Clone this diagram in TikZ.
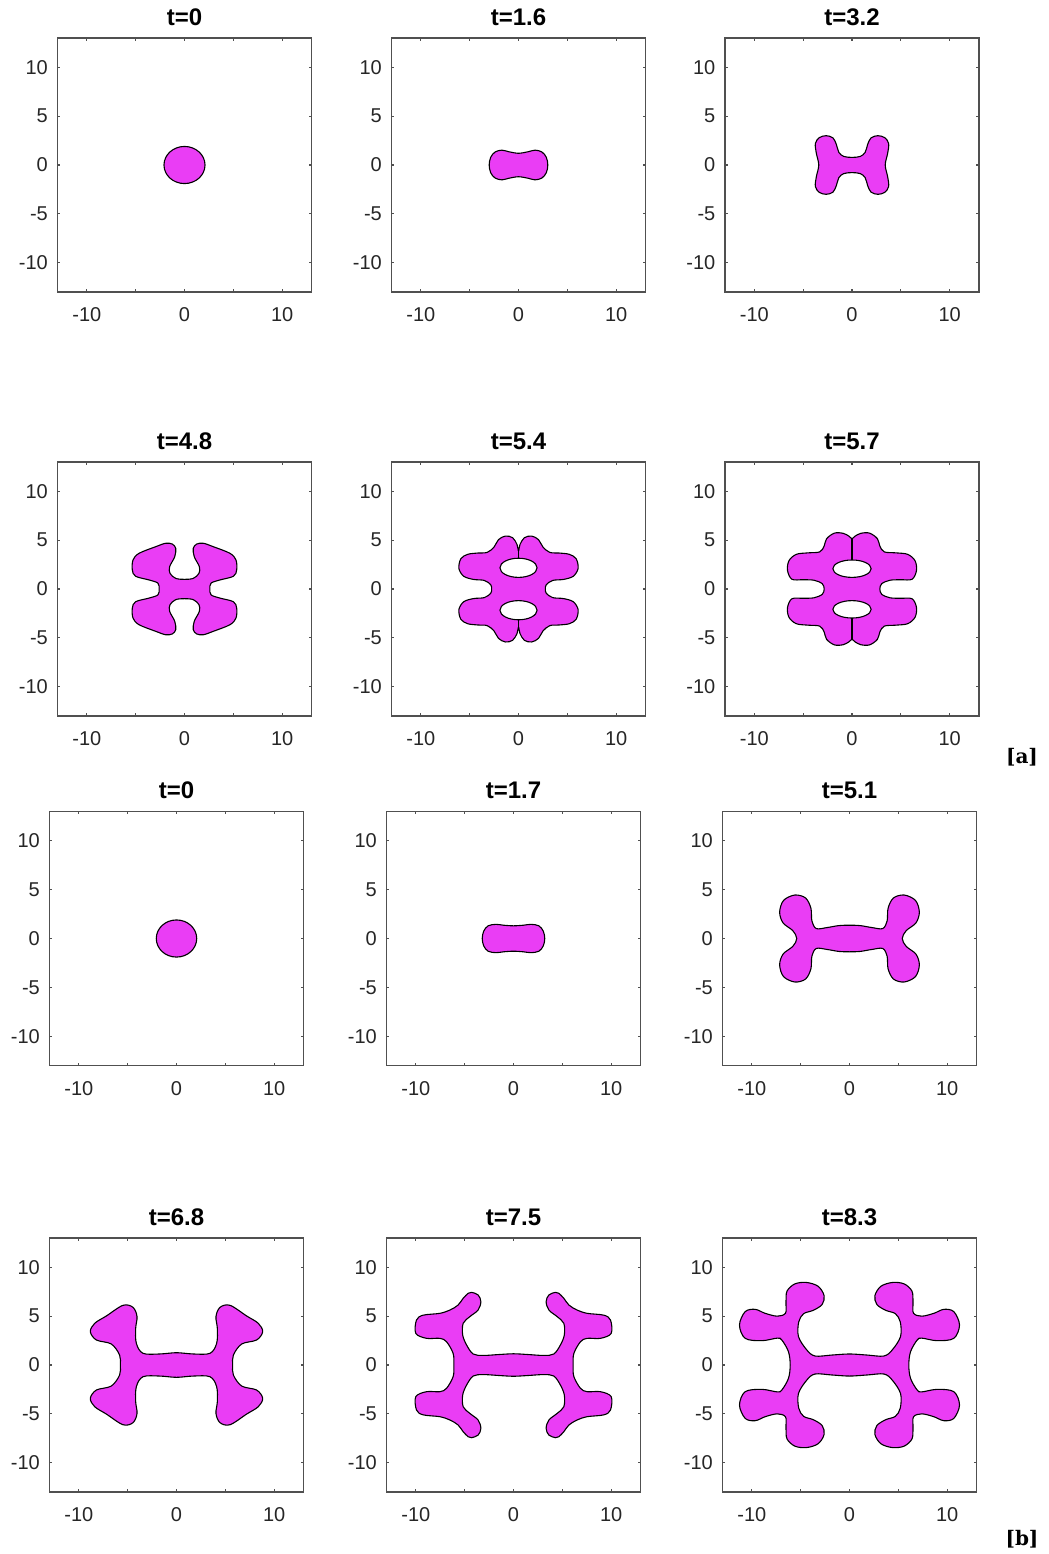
\documentclass[tikz,border=0pt]{standalone}
\usepackage{fontspec}
\setmainfont{Liberation Sans}
\newfontfamily\labfont{DejaVu Serif}
\definecolor{blobcol}{RGB}{234,61,245}
\definecolor{axcol}{RGB}{80,80,80}
\definecolor{txtcol}{RGB}{38,38,38}
\tikzset{
  axline/.style={draw=axcol, line width=0.6pt},
  ticklab/.style={font=\fontsize{10}{12}\selectfont, text=txtcol, inner sep=0pt},
  titlab/.style={font=\fontsize{12}{14}\selectfont\bfseries, inner sep=0pt},
  blob/.style={fill=blobcol, draw=black, line width=0.55pt},
  sublab/.style={font=\labfont\fontsize{10}{12}\selectfont\bfseries, inner sep=0pt}
}
% 4-fold symmetric smooth shape: #1 x-intercept, #2 interior Q1 points, #3 y-intercept, #4 extra path (holes)
\newcommand\symshape[4]{%
  \gdef\ptsA{}\gdef\ptsB{}\gdef\ptsC{}\gdef\ptsD{}%
  \foreach \px/\py in {#2}{%
    \xdef\ptsA{\ptsA (\px,\py)}%
    \xdef\ptsB{(-\px,\py) \ptsB}%
    \xdef\ptsC{\ptsC (-\px,-\py)}%
    \xdef\ptsD{(\px,-\py) \ptsD}%
  }%
  \edef\tmpshape{\noexpand\path[blob, even odd rule] plot[smooth cycle, tension=0.55] coordinates {(#1,0) \ptsA (0,#3) \ptsB (-#1,0) \ptsC (0,-#3) \ptsD} #4;}%
  \tmpshape
}
\newcommand\panel[5]{%
\begin{scope}[shift={(#2,#3)}, x=4.885pt, y=4.885pt]
  #5
  \draw[axline] (-13,-13) rectangle (13,13);
  \foreach \tk in {-10,-5,0,5,10}{
    \draw[axline] (\tk,-13) -- (\tk,-12.72) (\tk,13) -- (\tk,12.72) (-13,\tk) -- (-12.72,\tk) (13,\tk) -- (12.72,\tk);
    \node[ticklab, anchor=east] (#1-y\tk) at (-13.95,\tk) {\tk};
  }
  \foreach \tk in {-10,0,10}{
    \node[ticklab] (#1-x\tk) at (\tk,-15.35) {\tk};
  }
  \node[titlab] (#1-t) at (0,15.15) {#4};
\end{scope}}
\begin{document}
\begin{tikzpicture}[x=0.5pt,y=-0.5pt]
\useasboundingbox (0,0) rectangle (1049,1554);
\fill[white] (0,0) rectangle (1049,1554);

% ---------- [a] ----------
\panel{a1}{184.5}{165}{t=0}{\path[blob] (0,0) ellipse (2.1 and 1.9);}
\panel{a2}{518.5}{165}{t=1.6}{\symshape{3.0}{2.85/0.78, 2.4/1.33, 1.7/1.52, 1.0/1.36}{1.2}{}}
\panel{a3}{852}{165}{t=3.2}{\symshape{3.4}{3.65/1.2, 3.75/2.2, 3.35/2.8, 2.65/3.0, 1.95/2.78, 1.6/2.1, 1.35/1.3, 0.85/0.88}{0.78}{}}
\panel{a4}{184.5}{589}{t=4.8}{\symshape{2.6}{2.72/0.6, 3.6/0.92, 5.0/1.3, 5.34/1.95, 5.27/2.97, 4.66/3.65, 2.95/4.33, 1.93/4.68, 1.25/4.6, 0.9/4.16, 1.0/3.3, 1.52/2.29, 1.48/1.6, 0.9/1.09}{0.99}{}}
\panel{a5}{518.5}{589}{t=5.4}{\symshape{2.75}{2.85/0.45, 3.5/0.88, 4.6/0.98, 5.6/1.3, 6.1/2.1, 5.9/3.1, 5.2/3.55, 4.2/3.68, 3.2/3.75, 2.5/4.3, 2.05/5.05, 1.35/5.42, 0.6/5.25, 0.15/4.55}{3.9}{(0,2.17) ellipse (1.9 and 0.98) (0,-2.17) ellipse (1.9 and 0.98)}
  \draw[line width=0.55pt] (0,3.9) -- (0,3.15) (0,-3.9) -- (0,-3.15);}
\panel{a6}{852}{589}{t=5.7}{\symshape{2.85}{3.05/0.55, 3.9/0.9, 5.0/0.95, 6.15/1.0, 6.6/1.9, 6.45/2.9, 5.7/3.55, 4.5/3.7, 3.3/3.8, 2.85/4.4, 2.6/5.15, 1.8/5.72, 0.9/5.7, 0.3/5.4}{5.15}{(0,2.08) ellipse (1.96 and 0.89) (0,-2.08) ellipse (1.96 and 0.89)}
  \draw[line width=0.55pt] (0,5.15) -- (0,2.97) (0,-5.15) -- (0,-2.97);}

% ---------- [b] ----------
\panel{b1}{176.5}{938.5}{t=0}{\path[blob] (0,0) ellipse (2.07 and 1.9);}
\panel{b2}{513.5}{938.5}{t=1.7}{\symshape{3.2}{3.05/0.75, 2.6/1.3, 1.8/1.45, 1.0/1.36}{1.3}{}}
\panel{b3}{849.5}{938.5}{t=5.1}{\symshape{5.4}{5.8/0.8, 6.8/1.6, 7.15/2.7, 6.75/3.9, 5.6/4.45, 4.5/4.15, 3.95/3.1, 3.85/1.8, 3.4/1.02, 2.3/1.12, 1.1/1.32}{1.36}{}}
\panel{b4}{176.5}{1365}{t=6.8}{\symshape{5.75}{5.82/1.02, 6.67/2.15, 8.2/2.56, 8.82/3.41, 8.37/4.27, 7.18/5.02, 5.48/6.11, 4.45/5.9, 4.04/4.95, 4.18/3.75, 4.11/2.22, 3.43/1.2, 1.72/1.13}{1.26}{}}
\panel{b5}{513.5}{1365}{t=7.5}{\symshape{6.1}{6.18/1.19, 6.86/2.39, 7.54/2.73, 8.9/2.73, 10.0/3.24, 9.93/4.6, 9.25/5.1, 7.54/5.29, 6.5/5.63, 5.67/6.14, 5.15/6.83, 4.64/7.34, 4.3/7.44, 3.62/7.17, 3.34/6.48, 3.62/5.63, 4.47/4.95, 5.15/4.27, 5.2/3.07, 4.8/2.05, 4.13/1.13, 3.1/0.98, 1.4/1.08}{1.15}{}}
\panel{b6}{849.5}{1365}{t=8.3}{\symshape{6.07}{6.25/1.37, 6.93/2.56, 7.4/2.75, 8.97/2.49, 10.68/2.73, 11.26/4.1, 10.68/5.46, 9.66/5.7, 8.63/5.29, 7.4/5.0, 6.55/5.3, 6.5/6.4, 6.4/7.55, 5.6/8.3, 4.4/8.45, 3.2/8.05, 2.6/7.1, 2.8/6.2, 3.7/5.6, 4.7/5.25, 5.2/4.4, 5.22/2.9, 4.37/1.54, 3.52/0.92, 1.81/1.02}{1.13}{}}

\node[sublab] (labA) at (1022,757) {[a]};
\node[sublab] (labB) at (1022,1539) {[b]};
\end{tikzpicture}
\end{document}
